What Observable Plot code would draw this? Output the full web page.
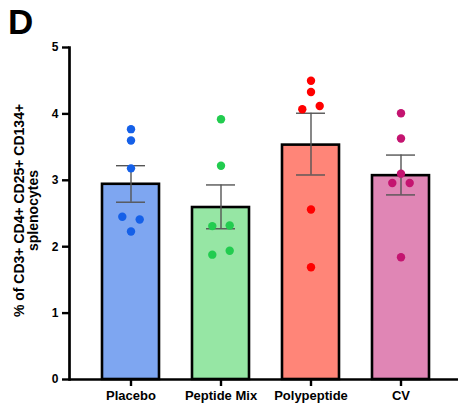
<!DOCTYPE html>
<html><head><meta charset="utf-8">
<script src="https://cdn.jsdelivr.net/npm/d3@7"></script>
<script src="https://cdn.jsdelivr.net/npm/@observablehq/plot@0.6"></script>
<style>
body{margin:0;background:#fff;font-family:"Liberation Sans",Arial,sans-serif}
#wrap{position:relative;width:458px;height:408px}
#wrap svg{position:absolute;left:0;top:0}
#panel{position:absolute;left:8px;top:4px;font-size:35px;font-weight:bold;line-height:1;color:#000;z-index:2}
</style></head><body>
<div id="wrap"><div id="panel">D</div></div>
<script>
const categories = ["Placebo", "Peptide Mix", "Polypeptide", "CV"];
const means = [2.94, 2.59, 3.53, 3.07];
const errLow = [2.67, 2.27, 3.08, 2.78];
const errHigh = [3.22, 2.93, 4.01, 3.38];
const barColors = ["#7ea6f1", "#96e6a4", "#ff8578", "#e086b5"];
const dotColors = ["#1560e8", "#22cc4f", "#ff0000", "#c41470"];
const placeboValues = [3.77, 3.60, 3.18, 2.45, 2.41, 2.23];
const placeboSlots = [0, 0, 0, -1, 1, 0];
const peptideMixValues = [3.92, 3.22, 2.31, 2.32, 1.88, 1.94];
const peptideMixSlots = [0, 0, -1, 1, -1, 1];
const polypeptideValues = [4.50, 4.33, 4.07, 4.12, 2.56, 1.69];
const polypeptideSlots = [0, 0, -1, 1, 0, 0];
const cvValues = [4.01, 3.63, 3.10, 2.96, 2.96, 1.84];
const cvSlots = [0, 0, 0, -1, 1, 0];
const yTicks = [0, 1, 2, 3, 4, 5];
const yLabel = "% of CD3+ CD4+ CD25+ CD134+\nsplenocytes";

const summary = categories.map((c, i) => ({cat: c, mean: means[i], lo: errLow[i], hi: errHigh[i], fill: barColors[i]}));
const groups = [placeboValues, peptideMixValues, polypeptideValues, cvValues];
const slotsAll = [placeboSlots, peptideMixSlots, polypeptideSlots, cvSlots];
const points = [];
groups.forEach((vals, gi) => vals.forEach((v, j) => points.push({cat: categories[gi], v, slot: slotsAll[gi][j], fill: dotColors[gi]})));

const dotMarks = [-1, 0, 1].map(s => Plot.dot(points.filter(d => d.slot === s), {
  x: "cat", y: "v", fill: "fill", r: 4.2, dx: s * 8.7
}));

const chart = Plot.plot({
  width: 458,
  height: 408,
  marginTop: 47,
  marginBottom: 29,
  marginLeft: 69,
  marginRight: 0,
  style: {fontFamily: "'Liberation Sans', Arial, sans-serif", fontWeight: "bold", fontSize: "13px", color: "#000", background: "transparent"},
  x: {domain: categories, range: [69, 462], padding: 0.363, paddingOuter: 0.341, label: null},
  y: {domain: [0, 5], label: null},
  color: {type: "identity"},
  marks: [
    Plot.barY(summary, {x: "cat", y: "mean", fill: "fill", stroke: "#000", strokeWidth: 2.6}),
    Plot.ruleX(summary, {x: "cat", y1: "lo", y2: "hi", stroke: "#555", strokeWidth: 1.4}),
    Plot.tickY(summary, {x: "cat", y: "hi", stroke: "#555", strokeWidth: 1.4, insetLeft: 14, insetRight: 14}),
    Plot.tickY(summary, {x: "cat", y: "lo", stroke: "#555", strokeWidth: 1.4, insetLeft: 14, insetRight: 14}),
    ...dotMarks,
    Plot.ruleY([0], {stroke: "#000", strokeWidth: 2.7}),
    Plot.frame({anchor: "left", stroke: "#000", strokeWidth: 2.7}),
    Plot.axisY({ticks: yTicks, tickFormat: d3.format("d"), tickSize: 7, tickPadding: 4, strokeWidth: 2.4, fontSize: 12, fontWeight: "bold", label: null}),
    Plot.axisX({tickSize: 7, tickPadding: 4, strokeWidth: 2.4, fontSize: 13, fontWeight: "bold", label: null}),
    Plot.text([yLabel], {frameAnchor: "left", rotate: -90, dx: -43, dy: -3, fontSize: 14, fontWeight: "bold", textAnchor: "middle", lineAnchor: "middle", fill: "#000"})
  ]
});
document.getElementById("wrap").appendChild(chart);
</script>
</body></html>
